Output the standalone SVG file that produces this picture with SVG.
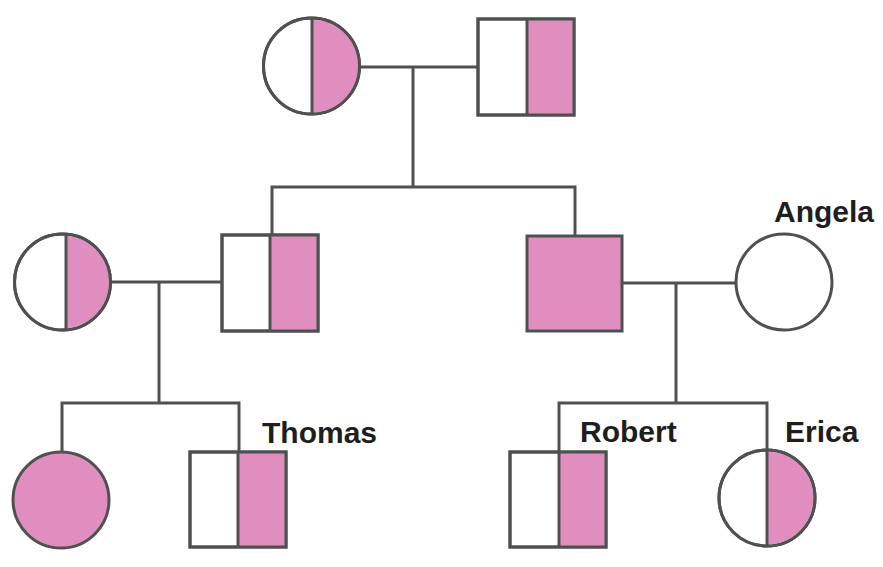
<svg xmlns="http://www.w3.org/2000/svg" width="883" height="567" viewBox="0 0 883 567">
<style>
.o{fill:#fff;stroke:#505050;stroke-width:3}
.p{fill:#e08ebf;stroke:none}
.d{stroke:#505050;stroke-width:3;fill:none}
.l{stroke:#505050;stroke-width:3;fill:none;stroke-linecap:square}
.t{font-family:"Liberation Sans",Arial,sans-serif;font-weight:bold;font-size:30px;fill:#1e1e1e}
</style>
<rect width="883" height="567" fill="#fff"/>
<g id="connectors">
<path class="l" d="M360 67H478M413 67V187M272 187H575M272 187V235M575 187V236"/>
<path class="l" d="M111 282H222M159 282V403M62 403H239M62 403V452M239 403V451"/>
<path class="l" d="M622 283H736M676 283V403M559 403H767M559 403V451M767 403V450"/>
</g>
<g id="gp-female">
<circle class="o" cx="311.5" cy="66" r="48"/>
<path class="p" d="M312 19.5A46.5 46.5 0 0 1 312 112.5Z"/>
<circle class="d" cx="311.5" cy="66" r="48"/>
<line class="d" x1="312" y1="18" x2="312" y2="114"/>
</g>
<g id="gp-male">
<rect class="o" x="478" y="19" width="96" height="96"/>
<rect class="p" x="527" y="20.5" width="45.5" height="93"/>
<rect class="d" x="478" y="19" width="96" height="96"/>
<line class="d" x1="527" y1="19" x2="527" y2="115"/>
</g>
<g id="mother">
<circle class="o" cx="62.5" cy="282" r="48"/>
<path class="p" d="M66 235.6A46.5 46.5 0 0 1 66 328.4Z"/>
<circle class="d" cx="62.5" cy="282" r="48"/>
<line class="d" x1="66" y1="234" x2="66" y2="330"/>
</g>
<g id="father">
<rect class="o" x="222" y="235" width="96" height="96"/>
<rect class="p" x="270" y="236.5" width="46.5" height="93"/>
<rect class="d" x="222" y="235" width="96" height="96"/>
<line class="d" x1="270" y1="235" x2="270" y2="331"/>
</g>
<g id="affected-male">
<rect class="d" x="527" y="236" width="95" height="95" style="fill:#e08ebf"/>
</g>
<g id="angela">
<circle class="o" cx="784" cy="282" r="48"/>
<text class="t" x="774" y="222">Angela</text>
</g>
<g id="daughter">
<circle class="d" cx="61" cy="500" r="48" style="fill:#e08ebf"/>
</g>
<g id="thomas">
<rect class="o" x="190" y="452" width="96" height="95"/>
<rect class="p" x="238" y="453.5" width="46.5" height="92"/>
<rect class="d" x="190" y="452" width="96" height="95"/>
<line class="d" x1="238" y1="452" x2="238" y2="547"/>
<text class="t" x="262" y="443">Thomas</text>
</g>
<g id="robert">
<rect class="o" x="510" y="452" width="96" height="95"/>
<rect class="p" x="559" y="453.5" width="45.5" height="92"/>
<rect class="d" x="510" y="452" width="96" height="95"/>
<line class="d" x1="559" y1="452" x2="559" y2="547"/>
<text class="t" x="580" y="442">Robert</text>
</g>
<g id="erica">
<circle class="o" cx="767" cy="498" r="48"/>
<path class="p" d="M767 451.5A46.5 46.5 0 0 1 767 544.5Z"/>
<circle class="d" cx="767" cy="498" r="48"/>
<line class="d" x1="767" y1="450" x2="767" y2="546"/>
<text class="t" x="785" y="442">Erica</text>
</g>
</svg>
